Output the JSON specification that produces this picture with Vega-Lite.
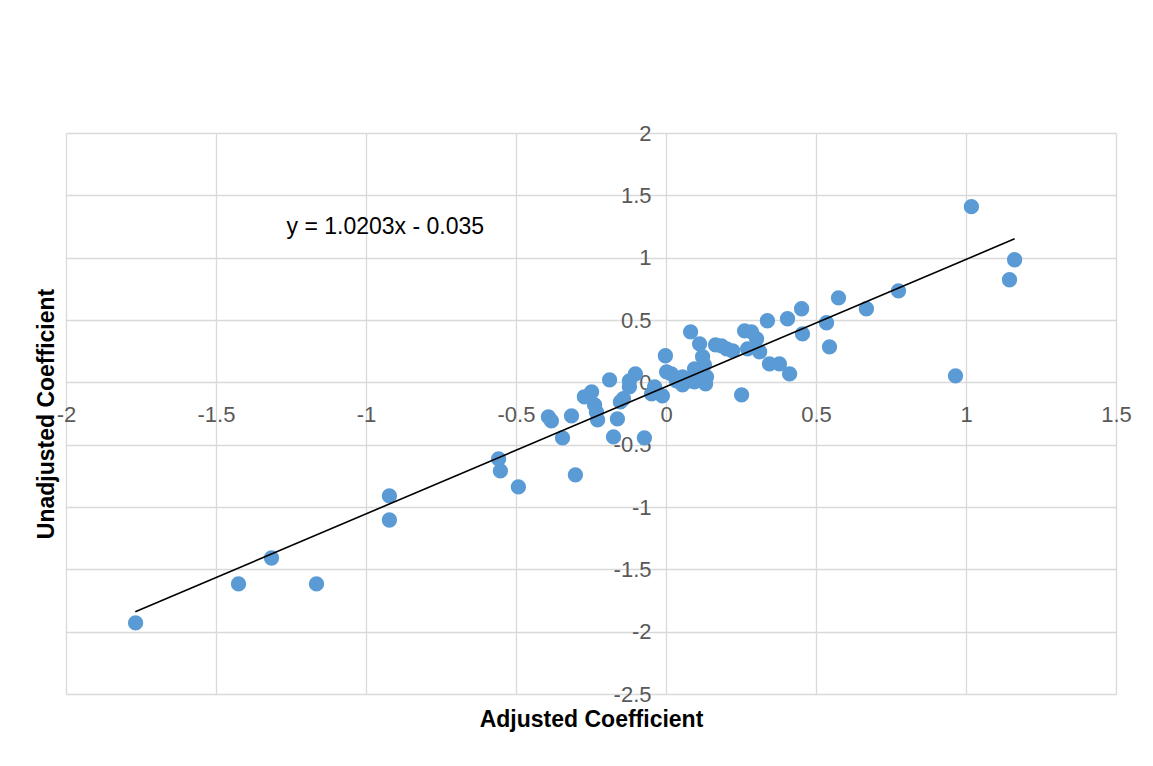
{
  "$schema": "https://vega.github.io/schema/vega-lite/v6.json",
  "width": 1050,
  "height": 561,
  "autosize": "none",
  "padding": {"left": 66, "top": 133, "right": 37, "bottom": 72},
  "background": "white",
  "config": {
    "view": {"stroke": null},
    "font": "Liberation Sans",
    "axis": {"labelFont": "Liberation Sans", "titleFont": "Liberation Sans"}
  },
  "datasets": {
    "pts": [
      {"adj": -1.768, "unadj": -1.930},
      {"adj": -1.425, "unadj": -1.617},
      {"adj": -1.315, "unadj": -1.409},
      {"adj": -1.165, "unadj": -1.617},
      {"adj": -0.922, "unadj": -0.911},
      {"adj": -0.922, "unadj": -1.104},
      {"adj": -0.558, "unadj": -0.614},
      {"adj": -0.552, "unadj": -0.710},
      {"adj": -0.492, "unadj": -0.839},
      {"adj": -0.392, "unadj": -0.277},
      {"adj": -0.382, "unadj": -0.309},
      {"adj": -0.345, "unadj": -0.445},
      {"adj": -0.315, "unadj": -0.269},
      {"adj": -0.302, "unadj": -0.742},
      {"adj": -0.272, "unadj": -0.116},
      {"adj": -0.248, "unadj": -0.076},
      {"adj": -0.238, "unadj": -0.181},
      {"adj": -0.232, "unadj": -0.237},
      {"adj": -0.228, "unadj": -0.301},
      {"adj": -0.188, "unadj": 0.020},
      {"adj": -0.175, "unadj": -0.437},
      {"adj": -0.162, "unadj": -0.293},
      {"adj": -0.152, "unadj": -0.157},
      {"adj": -0.142, "unadj": -0.132},
      {"adj": -0.122, "unadj": 0.012},
      {"adj": -0.122, "unadj": -0.036},
      {"adj": -0.102, "unadj": 0.068},
      {"adj": -0.072, "unadj": -0.445},
      {"adj": -0.048, "unadj": -0.092},
      {"adj": -0.038, "unadj": -0.036},
      {"adj": -0.012, "unadj": -0.108},
      {"adj": -0.002, "unadj": 0.213},
      {"adj": 0.002, "unadj": 0.084},
      {"adj": 0.018, "unadj": 0.068},
      {"adj": 0.035, "unadj": 0.012},
      {"adj": 0.055, "unadj": -0.020},
      {"adj": 0.055, "unadj": 0.044},
      {"adj": 0.078, "unadj": 0.012},
      {"adj": 0.082, "unadj": 0.405},
      {"adj": 0.095, "unadj": 0.004},
      {"adj": 0.095, "unadj": 0.108},
      {"adj": 0.112, "unadj": 0.309},
      {"adj": 0.122, "unadj": 0.205},
      {"adj": 0.128, "unadj": 0.140},
      {"adj": 0.112, "unadj": 0.052},
      {"adj": 0.135, "unadj": 0.044},
      {"adj": 0.132, "unadj": -0.012},
      {"adj": 0.165, "unadj": 0.301},
      {"adj": 0.185, "unadj": 0.293},
      {"adj": 0.202, "unadj": 0.269},
      {"adj": 0.222, "unadj": 0.253},
      {"adj": 0.262, "unadj": 0.413},
      {"adj": 0.285, "unadj": 0.405},
      {"adj": 0.302, "unadj": 0.349},
      {"adj": 0.272, "unadj": 0.269},
      {"adj": 0.312, "unadj": 0.245},
      {"adj": 0.338, "unadj": 0.494},
      {"adj": 0.345, "unadj": 0.148},
      {"adj": 0.378, "unadj": 0.148},
      {"adj": 0.412, "unadj": 0.068},
      {"adj": 0.405, "unadj": 0.510},
      {"adj": 0.452, "unadj": 0.590},
      {"adj": 0.455, "unadj": 0.389},
      {"adj": 0.252, "unadj": -0.100},
      {"adj": 0.535, "unadj": 0.478},
      {"adj": 0.545, "unadj": 0.285},
      {"adj": 0.575, "unadj": 0.678},
      {"adj": 0.668, "unadj": 0.590},
      {"adj": 0.775, "unadj": 0.734},
      {"adj": 0.965, "unadj": 0.052},
      {"adj": 1.018, "unadj": 1.409},
      {"adj": 1.162, "unadj": 0.983},
      {"adj": 1.145, "unadj": 0.823}
    ],
    "trend": [
      {"adj": -1.769, "unadj": -1.840},
      {"adj": 1.162, "unadj": 1.151}
    ],
    "label": [
      {"adj": -1.265, "unadj": 1.248, "text": "y = 1.0203x - 0.035"}
    ]
  },
  "resolve": {"axis": {"x": "independent", "y": "independent"}},
  "layer": [
    {
      "data": {"name": "pts"},
      "mark": {"type": "circle", "size": 235, "opacity": 1, "color": "#5b9bd5"},
      "encoding": {
        "x": {
          "field": "adj", "type": "quantitative",
          "scale": {"domain": [-2, 1.5], "nice": false, "zero": false},
          "axis": {
            "orient": "bottom",
            "values": [-2, -1.5, -1, -0.5, 0, 0.5, 1, 1.5],
            "grid": true, "gridColor": "#d9d9d9", "gridWidth": 1.3,
            "labels": false, "ticks": false, "domain": false,
            "title": "Adjusted Coefficient",
            "titleFontSize": 23, "titleFontWeight": "bold", "titleColor": "#000000",
            "titlePadding": 14
          }
        },
        "y": {
          "field": "unadj", "type": "quantitative",
          "scale": {"domain": [-2.5, 2], "nice": false, "zero": false},
          "axis": {
            "orient": "left",
            "values": [-2.5, -2, -1.5, -1, -0.5, 0, 0.5, 1, 1.5, 2],
            "grid": true, "gridColor": "#d9d9d9", "gridWidth": 1.3,
            "labels": false, "ticks": false, "domain": false,
            "title": "Unadjusted Coefficient",
            "titleFontSize": 23, "titleFontWeight": "bold", "titleColor": "#000000",
            "titlePadding": 8
          }
        }
      }
    },
    {
      "data": {"name": "trend"},
      "mark": {"type": "line", "color": "#000000", "strokeWidth": 1.6},
      "encoding": {
        "x": {
          "field": "adj", "type": "quantitative",
          "axis": {
            "orient": "bottom", "offset": -310.5,
            "values": [-2, -1.5, -1, -0.5, 0, 0.5, 1, 1.5],
            "labelExpr": "'' + datum.value",
            "grid": false, "ticks": false, "domain": false,
            "labelFlush": false, "labelOverlap": false,
            "labelFontSize": 22, "labelColor": "#595959", "labelPadding": 21,
            "title": null
          }
        },
        "y": {
          "field": "unadj", "type": "quantitative",
          "axis": {
            "orient": "left", "offset": -600,
            "values": [-2.5, -2, -1.5, -1, -0.5, 0, 0.5, 1, 1.5, 2],
            "labelExpr": "'' + datum.value",
            "grid": false, "ticks": false, "domain": false,
            "labelFlush": false, "labelOverlap": false,
            "labelFontSize": 22, "labelColor": "#595959", "labelPadding": 15,
            "title": null
          }
        }
      }
    },
    {
      "data": {"name": "label"},
      "mark": {"type": "text", "align": "left", "baseline": "middle", "fontSize": 23, "color": "#000000", "font": "Liberation Sans"},
      "encoding": {
        "x": {"field": "adj", "type": "quantitative", "axis": null},
        "y": {"field": "unadj", "type": "quantitative", "axis": null},
        "text": {"field": "text"}
      }
    }
  ]
}
